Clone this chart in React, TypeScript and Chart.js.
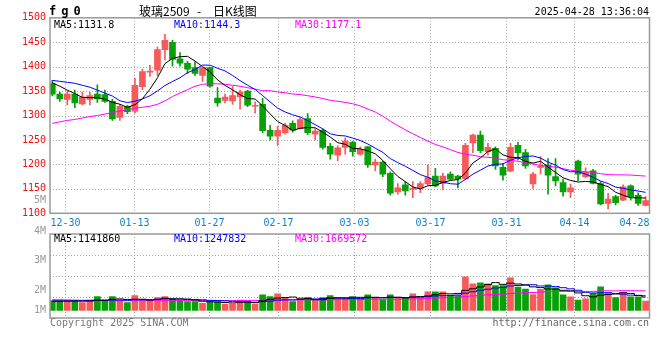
import React, { useEffect, useRef } from "react";
import { Chart, registerables } from "chart.js";

Chart.register(...registerables);

// ---------- data ----------
const dates = [
  "12-26","12-27","12-30","12-31","01-02","01-03","01-06","01-07","01-08","01-09",
  "01-10","01-13","01-14","01-15","01-16","01-17","01-20","01-21","01-22","01-23",
  "01-24","01-27","02-05","02-06","02-07","02-10","02-11","02-12","02-13","02-14",
  "02-17","02-18","02-19","02-20","02-21","02-24","02-25","02-26","02-27","02-28",
  "03-03","03-04","03-05","03-06","03-07","03-10","03-11","03-12","03-13","03-14",
  "03-17","03-18","03-19","03-20","03-21","03-24","03-25","03-26","03-27","03-28",
  "03-31","04-01","04-02","04-03","04-07","04-08","04-09","04-10","04-11","04-14",
  "04-15","04-16","04-17","04-18","04-21","04-22","04-23","04-24","04-25","04-28",
];
const dateTicks = ["12-30","01-13","01-27","02-17","03-03","03-17","03-31","04-14","04-28"];

const opens = [
  1365,1344,1333,1344,1324,1333,1344,1343,1329,1296,
  1319,1309,1359,1389,1393,1435,1450,1416,1407,1398,
  1382,1398,1336,1331,1330,1338,1350,1319,1323,1270,
  1258,1265,1284,1273,1294,1262,1270,1237,1219,1235,
  1245,1221,1236,1199,1205,1182,1144,1158,1149,1151,
  1160,1176,1161,1180,1176,1171,1244,1260,1226,1233,
  1194,1186,1239,1224,1160,1194,1199,1175,1163,1144,
  1207,1175,1187,1161,1120,1134,1127,1156,1137,1116,
];
const highs = [
  1372,1348,1350,1352,1348,1348,1363,1352,1333,1323,
  1321,1376,1395,1403,1440,1466,1454,1429,1411,1410,
  1398,1398,1357,1344,1360,1352,1352,1328,1335,1280,
  1278,1284,1289,1296,1304,1273,1273,1243,1238,1254,
  1247,1236,1237,1211,1207,1185,1161,1165,1165,1165,
  1199,1192,1182,1185,1178,1243,1262,1268,1243,1236,
  1202,1243,1245,1231,1184,1216,1212,1212,1170,1160,
  1209,1193,1190,1165,1141,1137,1158,1158,1142,1134,
];
const lows = [
  1340,1329,1322,1316,1322,1322,1327,1327,1290,1290,
  1304,1305,1353,1380,1382,1414,1401,1401,1386,1382,
  1370,1358,1319,1326,1323,1313,1318,1305,1265,1250,
  1239,1262,1266,1272,1261,1250,1231,1211,1207,1221,
  1217,1219,1194,1187,1175,1137,1139,1137,1132,1142,
  1158,1154,1149,1168,1152,1169,1224,1224,1219,1190,
  1168,1185,1209,1192,1151,1180,1139,1156,1135,1132,
  1167,1173,1160,1117,1109,1117,1126,1127,1116,1115,
];
const closes = [
  1344,1334,1344,1326,1338,1341,1334,1329,1293,1319,
  1308,1362,1390,1391,1435,1454,1415,1407,1395,1386,
  1398,1360,1326,1338,1341,1348,1321,1321,1269,1258,
  1270,1280,1270,1292,1265,1268,1235,1221,1234,1248,
  1226,1231,1199,1205,1180,1141,1152,1146,1150,1161,
  1173,1156,1176,1170,1170,1239,1260,1228,1235,1197,
  1178,1235,1224,1197,1180,1196,1178,1166,1144,1152,
  1180,1184,1161,1119,1129,1122,1154,1134,1120,1126,
];
const volumes = [
  854000,854000,854000,816000,682000,912000,1210000,854000,1210000,854000,
  682000,1296000,854000,854000,1123000,1210000,1008000,854000,768000,768000,
  624000,768000,768000,566000,566000,912000,826000,566000,1354000,1210000,
  1440000,1066000,768000,854000,1123000,854000,1123000,1296000,1094000,1094000,
  1181000,1056000,1354000,1056000,912000,1354000,1056000,1104000,1440000,1094000,
  1613000,1613000,1613000,1296000,1296000,2928000,2314000,2400000,2314000,2170000,
  2170000,2832000,2026000,1872000,1382000,1843000,2227000,1968000,1354000,1181000,
  912000,1008000,1498000,2054000,1498000,1123000,1555000,1181000,1181000,826000,
];

// moving-average values before the full window is available
const ma5Head = [1367, 1360, 1352, 1345];
const ma10Head = [1372, 1370, 1368, 1366, 1362, 1358, 1352, 1346, 1340];
const ma30Head = [
  1284,1287,1290,1292,1295,1298,1300,1303,1306,1309,
  1312,1315,1317,1319,1323,1330,1339,1346,1353,1360,
  1364,1365,1365,1364,1362,1360,1357,1354,1351,
];
const volMa5Head = [790000, 800000, 810000, 815000];
const volMa10Head = [920000, 915000, 905000, 895000, 885000, 882000, 888000, 895000, 905000];
const volMa30Head = [
  845000,846000,846000,847000,846000,845000,846000,848000,850000,851000,
  852000,855000,856000,856000,858000,860000,862000,862000,861000,860000,
  859000,860000,862000,862000,863000,866000,870000,875000,882000,
];

const priceLegend = ["MA5:1131.8", "MA10:1144.3", "MA30:1177.1"];
const volumeLegend = ["MA5:1141860", "MA10:1247832", "MA30:1669572"];
const volumeTickLabels = ["5M", "4M", "3M", "2M", "1M"];
const headerSymbol = "fg0";
const headerName = "玻璃2509";
const headerDash = "-";
const headerKind = "日K线图";
const headerTime = "2025-04-28 13:36:04";
const footerLeft = "Copyright 2025 SINA.COM";
const footerRight = "http://finance.sina.com.cn";

// ---------- style ----------
const UP = "#f65a5a";
const DOWN = "#07a007";
const MA_COLORS = ["#000000", "#0000ff", "#ff00ff"];
const GRID = "#a4a4a4";
const BORDER = "#9a9a9a";
const MONO = '"DejaVu Sans Mono", "Liberation Mono", monospace';
const CJK = '"Noto Sans CJK SC", "Noto Sans", sans-serif';
const LEGEND_X = [54, 174, 295];
const VOL_LABEL_Y = [200, 231, 260.5, 290, 310];
const X_MIN = -0.306;
const X_MAX = 79.51;

function movingAverage(values: number[], n: number, head: number[]): number[] {
  return values.map((_, i) => {
    if (i < n - 1) return head[i];
    let sum = 0;
    for (let k = i - n + 1; k <= i; k++) sum += values[k];
    return sum / n;
  });
}

const candleColors = closes.map((c, i) => (c >= opens[i] ? UP : DOWN));

function gridX(area: any, label: string): number {
  const idx = dates.indexOf(label);
  const slot = (area.right + 0.5 - area.left) / (dates.length - 1);
  return Math.round(area.left + idx * slot) + 0.5;
}

function dottedLine(ctx: CanvasRenderingContext2D, x1: number, y1: number, x2: number, y2: number) {
  ctx.beginPath();
  ctx.moveTo(x1, y1);
  ctx.lineTo(x2, y2);
  ctx.stroke();
}

function drawText(
  ctx: CanvasRenderingContext2D,
  s: string,
  x: number,
  y: number,
  color: string,
  font: string,
  align: CanvasTextAlign = "left",
  baseline: CanvasTextBaseline = "alphabetic"
) {
  ctx.fillStyle = color;
  ctx.font = font;
  ctx.textAlign = align;
  ctx.textBaseline = baseline;
  ctx.fillText(s, x, y);
}

function drawVerticalGrid(ctx: CanvasRenderingContext2D, area: any) {
  dateTicks.forEach((lbl) => {
    const x = gridX(area, lbl);
    if (x >= area.right - 1) return;
    dottedLine(ctx, x, area.top, x, area.bottom);
  });
}

function drawBorder(ctx: CanvasRenderingContext2D, area: any) {
  ctx.save();
  ctx.setLineDash([]);
  ctx.strokeStyle = BORDER;
  ctx.lineWidth = 1.5;
  ctx.strokeRect(area.left, area.top, area.right - area.left, area.bottom - area.top);
  ctx.restore();
}

const pricePlugin = {
  id: "priceDecor",
  beforeDatasetsDraw(chart: any) {
    const { ctx, chartArea: a, scales } = chart;
    ctx.save();
    ctx.strokeStyle = GRID;
    ctx.lineWidth = 1;
    ctx.setLineDash([1, 2]);
    scales.y.ticks.forEach((t: any) => {
      if (t.value <= scales.y.min || t.value >= scales.y.max) return;
      const y = Math.round(scales.y.getPixelForValue(t.value)) + 0.5;
      dottedLine(ctx, a.left, y, a.right, y);
    });
    drawVerticalGrid(ctx, a);
    ctx.restore();
  },
  afterDraw(chart: any) {
    const { ctx, chartArea: a } = chart;
    drawBorder(ctx, a);
    ctx.save();
    // header
    ctx.letterSpacing = "5px";
    drawText(ctx, headerSymbol, 49, 15, "#000", `bold 12px ${MONO}`);
    ctx.letterSpacing = "0px";
    drawText(ctx, headerName, 139, 15.5, "#000", `12px ${CJK}`);
    drawText(ctx, headerDash, 197, 15.5, "#000", `12px ${CJK}`);
    drawText(ctx, headerKind, 213, 15.5, "#000", `12px ${CJK}`);
    drawText(ctx, headerTime, 649, 15, "#000", `10px ${MONO}`, "right");
    // legend
    priceLegend.forEach((s, i) => drawText(ctx, s, LEGEND_X[i], 27.5, MA_COLORS[i], `10px ${MONO}`));
    // date labels
    ctx.font = `10px ${MONO}`;
    dateTicks.forEach((lbl) => {
      const w = ctx.measureText(lbl).width;
      let x = gridX(a, lbl) - w / 2;
      if (x + w > a.right) x = a.right - w;
      drawText(ctx, lbl, x, 225.5, "#1080d0", `10px ${MONO}`);
    });
    ctx.restore();
  },
};

const volumePlugin = {
  id: "volumeDecor",
  beforeDatasetsDraw(chart: any) {
    const { ctx, chartArea: a, scales } = chart;
    ctx.save();
    ctx.strokeStyle = GRID;
    ctx.lineWidth = 1;
    ctx.setLineDash([1, 2]);
    scales.y.ticks.forEach((t: any, i: number) => {
      if (i === 0 || i === scales.y.ticks.length - 1) return;
      const y = Math.round(scales.y.getPixelForValue(t.value)) + 0.5;
      dottedLine(ctx, a.left, y, a.right, y);
    });
    drawVerticalGrid(ctx, a);
    ctx.restore();
  },
  afterDraw(chart: any) {
    const { ctx, chartArea: a } = chart;
    drawBorder(ctx, a);
    ctx.save();
    volumeLegend.forEach((s, i) => drawText(ctx, s, LEGEND_X[i], 241.5, MA_COLORS[i], `10px ${MONO}`));
    volumeTickLabels.forEach((s, i) =>
      drawText(ctx, s, 46, VOL_LABEL_Y[i], "#9a9a9a", `10px ${MONO}`, "right", "middle")
    );
    drawText(ctx, footerLeft, 50, 326, "#7a7a7a", `10px ${MONO}`);
    drawText(ctx, footerRight, 649, 326, "#666666", `10px ${MONO}`, "right");
    ctx.restore();
  },
};

function lineDataset(label: string, values: number[], color: string, stepped: any) {
  return {
    type: "line" as const,
    label,
    data: values.map((v, i) => ({ x: i, y: v })),
    borderColor: color,
    borderWidth: 1,
    pointRadius: 0,
    tension: 0,
    stepped,
    order: 0,
  };
}

function baseOptions(padTop: number, padBottom: number, yOpts: any) {
  return {
    responsive: false,
    maintainAspectRatio: false,
    animation: false as const,
    events: [],
    layout: { autoPadding: false, padding: { top: padTop, bottom: padBottom, left: 0, right: 10.5 } },
    plugins: { legend: { display: false }, tooltip: { enabled: false } },
    scales: {
      x: { type: "linear" as const, min: X_MIN, max: X_MAX, offset: false, display: false },
      y: yOpts,
    },
  };
}

export default function App() {
  const priceRef = useRef<HTMLCanvasElement>(null);
  const volRef = useRef<HTMLCanvasElement>(null);

  useEffect(() => {
    const ma5 = movingAverage(closes, 5, ma5Head);
    const ma10 = movingAverage(closes, 10, ma10Head);
    const ma30 = movingAverage(closes, 30, ma30Head);
    const vma5 = movingAverage(volumes, 5, volMa5Head);
    const vma10 = movingAverage(volumes, 10, volMa10Head);
    const vma30 = movingAverage(volumes, 30, volMa30Head);

    const priceChart = new Chart(priceRef.current as HTMLCanvasElement, {
      type: "bar",
      data: {
        datasets: [
          lineDataset("MA5", ma5, MA_COLORS[0], false),
          lineDataset("MA10", ma10, MA_COLORS[1], false),
          lineDataset("MA30", ma30, MA_COLORS[2], false),
          {
            type: "bar",
            label: "body",
            data: opens.map((o, i) => ({ x: i, y: [o, closes[i]] })) as any,
            backgroundColor: candleColors,
            barThickness: 6,
            minBarLength: 1,
            grouped: false,
            order: 2,
          } as any,
          {
            type: "bar",
            label: "wick",
            data: lows.map((l, i) => ({ x: i, y: [l, highs[i]] })) as any,
            backgroundColor: candleColors,
            barThickness: 1,
            grouped: false,
            order: 3,
          } as any,
        ],
      },
      options: baseOptions(17.8, 146.7, {
        min: 1100,
        max: 1500,
        position: "left",
        afterFit: (s: any) => {
          s.width = 50;
        },
        ticks: {
          stepSize: 50,
          color: "#ee1111",
          font: { family: MONO, size: 10 },
          padding: 4,
          callback: (v: any) => String(v),
        },
        grid: { display: false, drawTicks: false },
        border: { display: false },
      }) as any,
      plugins: [pricePlugin],
    });

    const volumeChart = new Chart(volRef.current as HTMLCanvasElement, {
      type: "bar",
      data: {
        datasets: [
          lineDataset("VMA5", vma5, MA_COLORS[0], "middle"),
          lineDataset("VMA10", vma10, MA_COLORS[1], "middle"),
          lineDataset("VMA30", vma30, MA_COLORS[2], "middle"),
          {
            type: "bar",
            label: "volume",
            data: volumes.map((v, i) => ({ x: i, y: v })) as any,
            backgroundColor: candleColors,
            barThickness: 6,
            grouped: false,
            order: 2,
          } as any,
        ],
      },
      options: baseOptions(234, 42, {
        min: -652000,
        max: 6652000,
        position: "left",
        afterFit: (s: any) => {
          s.width = 50;
        },
        afterBuildTicks: (s: any) => {
          s.ticks = [0, 1, 2, 3, 4].map((k) => ({ value: s.min + (k * (s.max - s.min)) / 4 }));
        },
        ticks: { display: false },
        grid: { display: false, drawTicks: false },
        border: { display: false },
      }) as any,
      plugins: [volumePlugin],
    });

    return () => {
      priceChart.destroy();
      volumeChart.destroy();
    };
  }, []);

  return (
    <div style={{ position: "fixed", left: 0, top: 0, width: 660, height: 360, background: "#fff" }}>
      <canvas ref={priceRef} width={660} height={360} style={{ position: "absolute", left: 0, top: 0 }} />
      <canvas ref={volRef} width={660} height={360} style={{ position: "absolute", left: 0, top: 0 }} />
    </div>
  );
}
